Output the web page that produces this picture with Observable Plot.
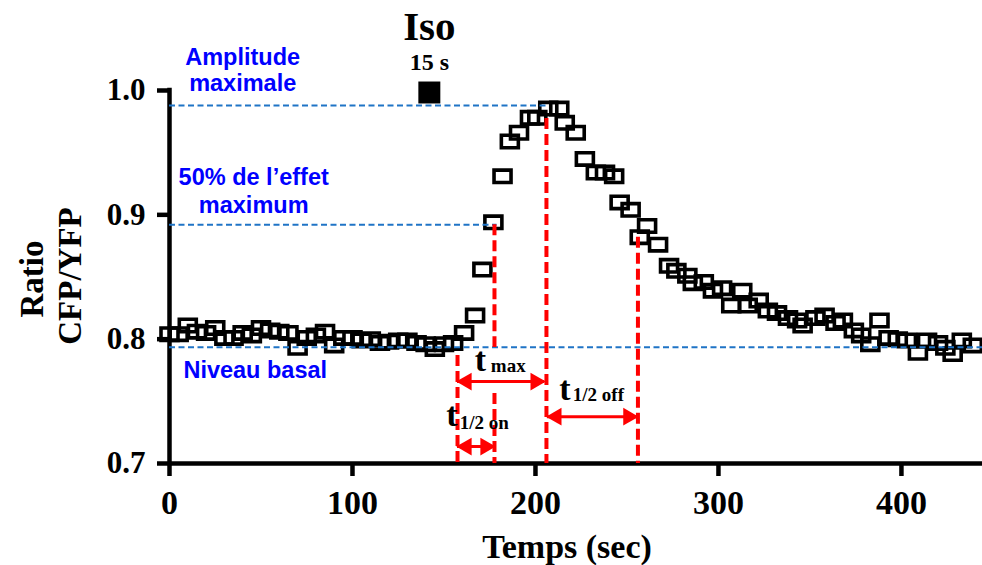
<!DOCTYPE html>
<html>
<head>
<meta charset="utf-8">
<script src="https://cdn.jsdelivr.net/npm/d3@7"></script>
<script src="https://cdn.jsdelivr.net/npm/@observablehq/plot@0.6"></script>
<style>
  html, body { margin: 0; padding: 0; background: #fff; }
  #chart { width: 982px; height: 565px; }
</style>
</head>
<body>
<div id="chart"></div>
<script>
// ---- data ----
const time = [0,5,10,15,20,25,30,35,40,45,50,55,60,65,70,75,80,85,90,95,100,105,110,115,120,125,130,135,140,145,150,155,
  161,167,171,177,182,186,191,197,201,207,213,216,222,227,233,238,243,246,252,257,261,267,273,277,283,286,292,297,302,307,
  313,316,322,327,332,338,343,346,353,358,364,368,374,378,383,388,393,398,403,409,414,420,424,428,433,439];
const ratio = [0.804,0.804,0.811,0.806,0.805,0.809,0.801,0.801,0.805,0.803,0.809,0.807,0.806,0.805,0.793,0.801,0.803,0.806,0.795,0.801,0.801,0.799,0.800,0.797,0.798,0.799,0.799,0.797,0.796,0.792,0.796,0.797,
  0.805,0.819,0.856,0.894,0.931,0.959,0.966,0.978,0.978,0.9855,0.9855,0.974,0.966,0.945,0.934,0.934,0.931,0.910,0.904,0.882,0.891,0.876,0.859,0.855,0.851,0.845,0.846,0.839,0.841,0.827,
  0.839,0.827,0.831,0.823,0.821,0.817,0.815,0.811,0.817,0.819,0.813,0.815,0.807,0.803,0.796,0.815,0.801,0.800,0.799,0.789,0.799,0.797,0.793,0.788,0.799,0.795];

const xTicks = [0, 100, 200, 300, 400];
const yTicks = [0.7, 0.8, 0.9, 1.0];
const xLabel = "Temps (sec)";
const yLabelLines = ["Ratio", "CFP/YFP"];

// stimulus
const isoTime = [142];
const isoLevel = [1.0];
const isoTitle = "Iso";
const isoDuration = "15 s";

// reference levels (blue dashed)
const levelName = ["max", "half", "basal"];
const levelValue = [0.988, 0.892, 0.7935];
const levelEnd = [207, 179, 444.3];

// blue annotation texts
const blueText = ["Amplitude", "maximale", "50% de l’effet", "maximum"];
const blueX = [40, 40, 46, 46];
const blueY = [1.0265, 1.0056, 0.930, 0.9075];
const basalText = ["Niveau basal"];
const basalX = [7.6];
const basalY = [0.7747];

// red dashed verticals (time, top, bottom)
const redX = [157.4, 177.6, 177.6, 206, 256];
const redTop = [0.7869, 0.892, 0.7563, 0.9775, 0.882];
const redBottom = [0.7, 0.7933, 0.7, 0.7, 0.7];

// double arrows
const arrowName = ["tmax", "off", "on"];
const arrowStart = [157.4, 206.5, 157.4];
const arrowEnd = [205, 255.7, 177.6];
const arrowY = [0.7659, 0.7377, 0.7136];

// t labels
const tMainX = [166.8, 213.0, 151.3];
const tMainY = [0.7828, 0.7595, 0.7386];
const tSubText = ["max", "1/2 off", "1/2 on"];
const tSubX = [175.6, 220.4, 158.6];
const tSubY = [0.7785, 0.7555, 0.7325];

// ---- build ----
const serif = "Liberation Serif, Times New Roman, serif";
const sans = "Liberation Sans, Arial, sans-serif";
const rectSymbol = {
  draw(context) {
    context.moveTo(-8.5, -6.2);
    context.lineTo(8.5, -6.2);
    context.lineTo(8.5, 6.2);
    context.lineTo(-8.5, 6.2);
    context.closePath();
  }
};
const points = time.map((t, i) => ({t, r: ratio[i]}));
const levels = levelName.map((n, i) => ({n, v: levelValue[i], x2: levelEnd[i]}));
const reds = redX.map((x, i) => ({x, y1: redTop[i], y2: redBottom[i]}));
const arrows = arrowName.map((n, i) => ({n, x1: arrowStart[i], x2: arrowEnd[i], y: arrowY[i]}));
const RED = "#ff0000";
const BLUE = "#1f74c6";

const chart = Plot.plot({
  width: 982,
  height: 565,
  marginLeft: 169,
  marginRight: 0,
  marginTop: 90,
  marginBottom: 102,
  x: {domain: [0, 444.3]},
  y: {domain: [0.7, 1.0]},
  style: {background: "white", fontFamily: serif, overflow: "visible"},
  marks: [
    Plot.axisX({ticks: xTicks, tickSize: 13, strokeWidth: 4.5, tickPadding: 13, fontSize: 34,
      fontWeight: "bold", fontFamily: serif, label: null, tickFormat: d => String(d)}),
    Plot.axisY({ticks: yTicks, tickSize: 12, strokeWidth: 4.5, tickPadding: 12, fontSize: 31,
      fontWeight: "bold", fontFamily: serif, label: null, tickFormat: d => d.toFixed(1)}),
    Plot.ruleY([0.7], {strokeWidth: 4.5}),
    Plot.ruleX([0], {y1: 0.7, y2: 1.0, strokeWidth: 4.5, strokeLinecap: "square"}),
    // data
    Plot.dot(points, {x: "t", y: "r", symbol: rectSymbol, stroke: "black", strokeWidth: 3.6, fill: "none"}),
    // blue dashed levels
    Plot.ruleY(levels, {y: "v", x1: 0, x2: "x2", stroke: BLUE, strokeWidth: 2, strokeDasharray: "6,3.5"}),
    // red dashed verticals
    Plot.ruleX(reds, {x: "x", y1: "y1", y2: "y2", stroke: RED, strokeWidth: 4, strokeDasharray: "11,5"}),
    // arrows
    Plot.ruleY(arrows, {y: "y", x1: "x1", x2: "x2", stroke: RED, strokeWidth: 3}),
    Plot.dot(arrows, {x: "x1", y: "y", symbol: "triangle", rotate: -90, r: 6.6, fill: RED, dx: 9}),
    Plot.dot(arrows, {x: "x2", y: "y", symbol: "triangle", rotate: 90, r: 6.6, fill: RED, dx: -9}),
    // t labels
    Plot.text(tMainX.map(() => "t"), {x: tMainX, y: tMainY, fontSize: 34, fontWeight: "bold", fontFamily: serif, textAnchor: "start", fill: "black"}),
    Plot.text(tSubText, {x: tSubX, y: tSubY, fontSize: 19, fontWeight: "bold", fontFamily: serif, textAnchor: "start", fill: "black"}),
    // stimulus
    Plot.dot(isoTime, {x: d => d, y: isoLevel, symbol: "square", r: 12.4, fill: "black", dy: 2}),
    Plot.text([isoTitle], {x: isoTime, y: isoLevel, dy: -64, fontSize: 41, fontWeight: "bold", fontFamily: serif}),
    Plot.text([isoDuration], {x: isoTime, y: isoLevel, dy: -28, fontSize: 24, fontWeight: "bold", fontFamily: serif}),
    // blue annotations
    Plot.text(blueText, {x: blueX, y: blueY, fontSize: 23.5, fontWeight: "bold", fontFamily: sans, fill: "#0000ff"}),
    Plot.text(basalText, {x: basalX, y: basalY, fontSize: 23.5, fontWeight: "bold", fontFamily: sans, fill: "#0000ff", textAnchor: "start"}),
    // axis titles
    Plot.text([xLabel], {frameAnchor: "bottom", dy: 84, dx: -9, textAnchor: "middle", lineAnchor: "middle", fontSize: 34, fontWeight: "bold", fontFamily: serif}),
    Plot.text([yLabelLines[0]], {frameAnchor: "left", dx: -137, dy: 2, textAnchor: "middle", lineAnchor: "middle", rotate: -90, fontSize: 33, fontWeight: "bold", fontFamily: serif}),
    Plot.text([yLabelLines[1]], {frameAnchor: "left", dx: -99, dy: -1, textAnchor: "middle", lineAnchor: "middle", rotate: -90, fontSize: 33, fontWeight: "bold", fontFamily: serif})
  ]
});
document.getElementById("chart").appendChild(chart);
</script>
</body>
</html>
